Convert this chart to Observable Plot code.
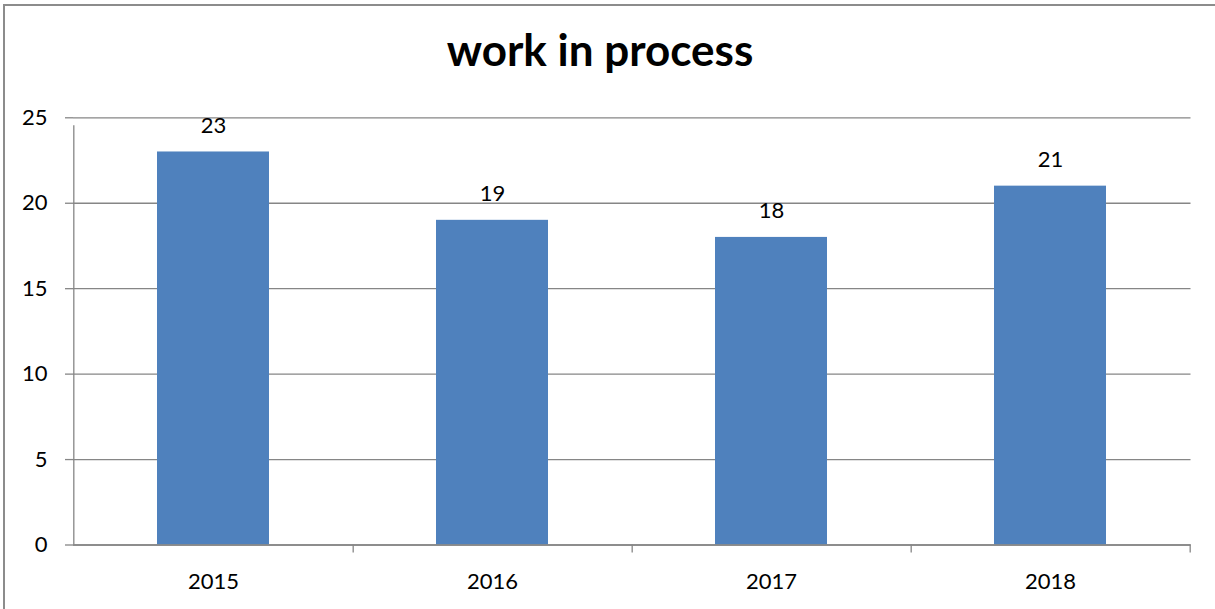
<!DOCTYPE html>
<html>
<head>
<meta charset="utf-8">
<script src="https://cdn.jsdelivr.net/npm/d3@7"></script>
<script src="https://cdn.jsdelivr.net/npm/@observablehq/plot@0.6"></script>
<style>
  html, body { margin: 0; padding: 0; background: #fff; overflow: hidden; width: 1215px; height: 609px; }
  #wrap { position: relative; width: 1215px; height: 609px; }
  #border { position: absolute; left: 3px; top: 4px; width: 1300px; height: 700px; border: 2px solid #8c8c8c; box-sizing: border-box; }
  #title { position: absolute; left: 0; top: 0; width: 1200px; height: 100px; text-align: center; font-family: Lato, "Open Sans", sans-serif; font-weight: bold; font-size: 44px; line-height: 98px; color: #000; }
  #chart { position: absolute; left: 0; top: 100px; }
</style>
</head>
<body>
<div id="wrap">
  <div id="title">work in process</div>
  <div id="chart"></div>
  <div id="border"></div>
</div>
<script>
const years = ["2015", "2016", "2017", "2018"];
const values = [23, 19, 18, 21];
const yTicks = [0, 5, 10, 15, 20, 25];

const data = years.map((y, i) => ({year: y, value: values[i]}));

const width = 1215, height = 509;
const marginLeft = 73, marginRight = 24.5, marginTop = 17.3, marginBottom = 64.5;
const step = (width - marginLeft - marginRight) / years.length;
const gray = "#868686";

const chart = Plot.plot({
  width, height, marginLeft, marginRight, marginTop, marginBottom,
  style: {fontFamily: "Lato, 'Open Sans', sans-serif", fontSize: "22px", color: "#000", background: "transparent"},
  x: {domain: years, paddingInner: 0.6, paddingOuter: 0.3, label: null},
  y: {domain: [0, 25], label: null},
  marks: [
    Plot.gridY(yTicks, {stroke: gray, strokeOpacity: 1, strokeWidth: 1.3}),
    Plot.axisY(yTicks, {tickSize: 8, tickPadding: 18, stroke: gray, strokeWidth: 1.3, label: null, fontSize: 22}),
    Plot.axisX({tickSize: 0, tickPadding: 28, label: null, fontSize: 22}),
    Plot.barY(data, {x: "year", y: "value", fill: "#4F81BD"}),
    Plot.ruleY([0], {stroke: gray, strokeWidth: 1.3}),
    Plot.ruleX([years[0]], {y1: 0, y2: 25, dx: -step / 2, stroke: gray, strokeWidth: 1.3, insetBottom: -8}),
    Plot.ruleX(years, {y1: 0, y2: 0, dx: step / 2, stroke: gray, strokeWidth: 1.3, insetBottom: -8}),
    Plot.text(data, {x: "year", y: "value", text: d => String(d.value), dy: -26, fill: "#000", fontSize: 22})
  ]
});
document.getElementById("chart").appendChild(chart);
</script>
</body>
</html>
